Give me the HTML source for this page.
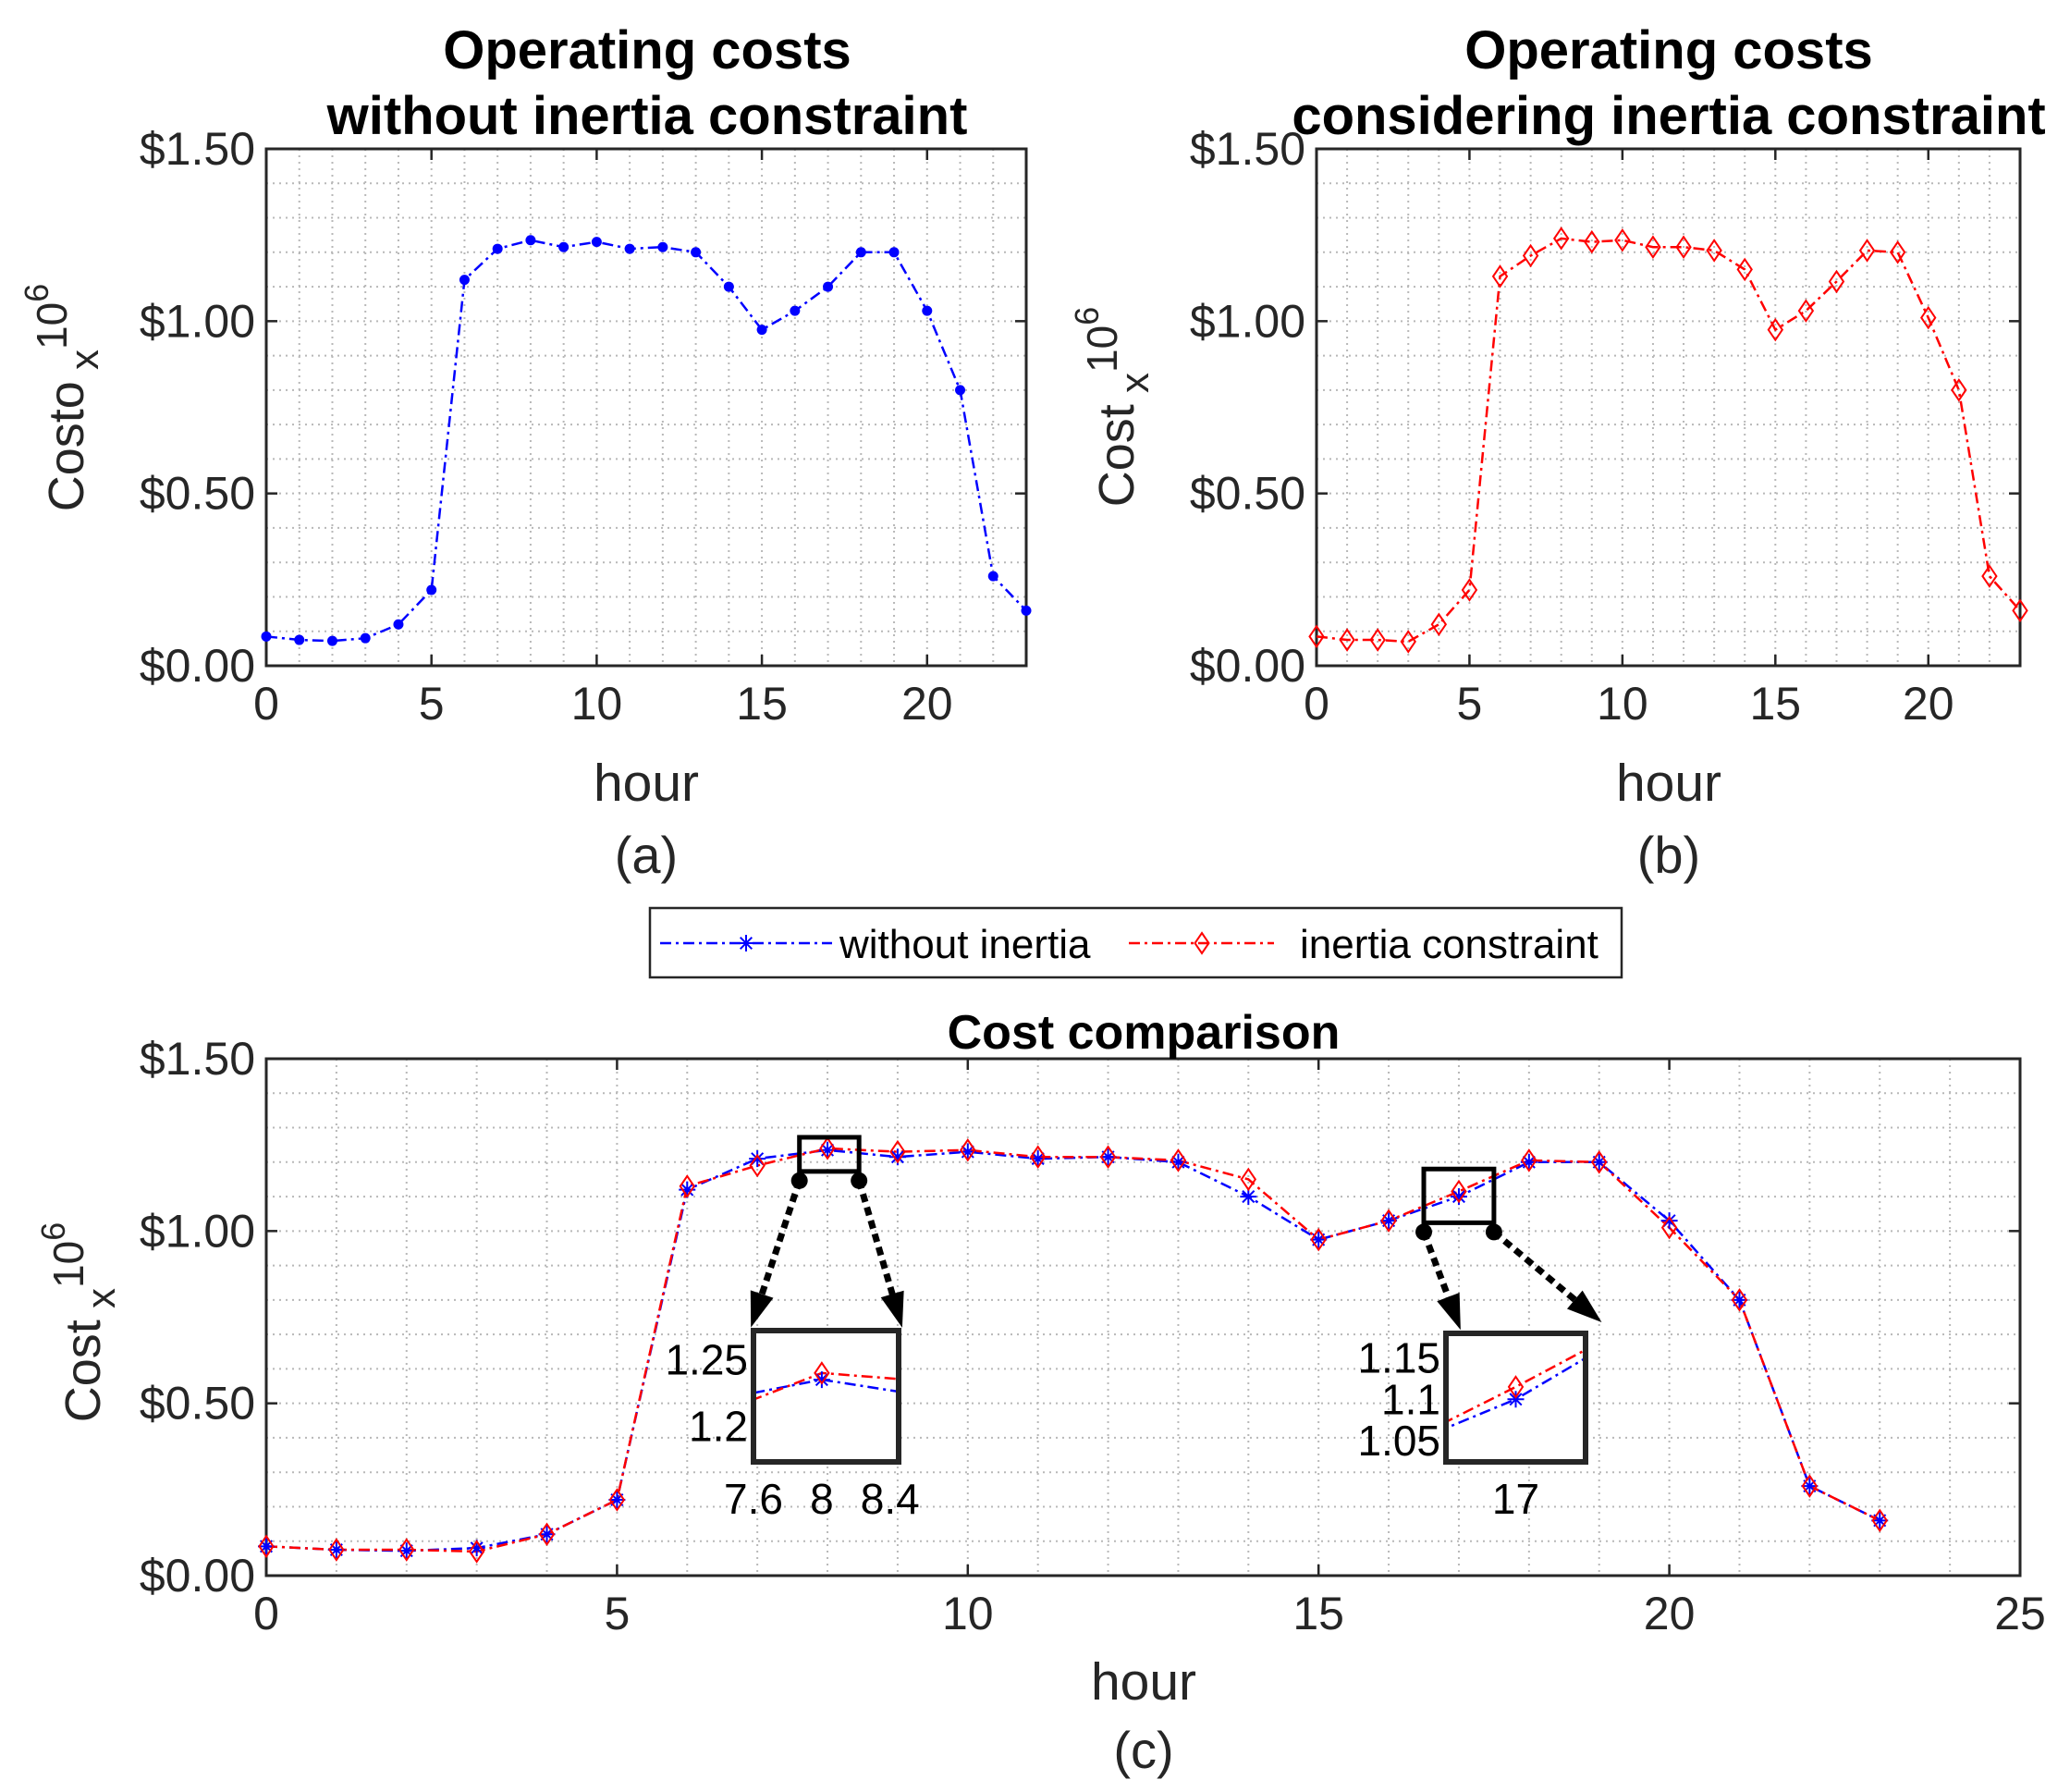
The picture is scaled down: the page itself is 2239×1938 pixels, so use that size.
<!DOCTYPE html>
<html><head><meta charset="utf-8"><style>
html,body{margin:0;padding:0;background:#fff;overflow:hidden;width:2239px;height:1938px;}
svg{display:block;font-family:"Liberation Sans",Arial,sans-serif;}
</style></head><body>
<svg id="fig" width="2239" height="1938" viewBox="0 0 2239 1938" xmlns="http://www.w3.org/2000/svg"></svg>
<script>
const hours = [0,1,2,3,4,5,6,7,8,9,10,11,12,13,14,15,16,17,18,19,20,21,22,23];
const costWithout = [0.085,0.075,0.072,0.08,0.12,0.22,1.12,1.21,1.235,1.215,1.23,1.21,1.215,1.2,1.1,0.975,1.03,1.1,1.2,1.2,1.03,0.8,0.26,0.16];
const costInertia = [0.085,0.075,0.075,0.07,0.12,0.22,1.13,1.19,1.24,1.23,1.235,1.215,1.215,1.205,1.15,0.975,1.03,1.115,1.205,1.2,1.01,0.8,0.26,0.16];
const yTickLabels = ['$0.00','$0.50','$1.00','$1.50'];
const yTickValues = [0,0.5,1,1.5];
const xTicksAB = [0,5,10,15,20];
const xTicksC = [0,5,10,15,20,25];
const inset1XTicks = [7.6,8,8.4];
const inset1YTicks = [1.2,1.25];
const inset2XTicks = [17];
const inset2YTicks = [1.05,1.1,1.15];

const NS='http://www.w3.org/2000/svg';
const svg=document.getElementById('fig');
function mk(tag,attrs,parent){const e=document.createElementNS(NS,tag);for(const k in attrs)e.setAttribute(k,attrs[k]);(parent||svg).appendChild(e);return e;}
function txt(s,x,y,size,parent,opts){opts=opts||{};const t=mk('text',{x:x,y:y,'font-size':size,'text-anchor':opts.anchor||'middle',fill:opts.fill||'#262626','font-weight':opts.bold?'bold':'normal'},parent);t.textContent=s;return t;}
const DASH='12,5,3,5';

function axes(name,L,R,T,B,xmax,xticks){
  const g=mk('g',{});
  
  
  const sx=v=>L+(v/xmax)*(R-L), sy=v=>B-(v/1.5)*(B-T);
  for(let x=1;x<xmax;x++){mk('line',{x1:sx(x),x2:sx(x),y1:T,y2:B,stroke:'#b8b8b8','stroke-width':2,'stroke-dasharray':'2,5'},g);}
  for(let i=1;i<15;i++){const v=i/10;mk('line',{x1:L,x2:R,y1:sy(v),y2:sy(v),stroke:'#b8b8b8','stroke-width':2,'stroke-dasharray':'2,5'},g);}
  xticks.forEach(v=>{mk('line',{x1:sx(v),x2:sx(v),y1:B,y2:B-12,stroke:'#262626','stroke-width':2.5},g);mk('line',{x1:sx(v),x2:sx(v),y1:T,y2:T+12,stroke:'#262626','stroke-width':2.5},g);
    const t=txt(String(v),sx(v),B+58,50,g);});
  yTickValues.forEach((v,i)=>{mk('line',{x1:L,x2:L+12,y1:sy(v),y2:sy(v),stroke:'#262626','stroke-width':2.5},g);mk('line',{x1:R,x2:R-12,y1:sy(v),y2:sy(v),stroke:'#262626','stroke-width':2.5},g);
    const t=txt(yTickLabels[i],L-12,sy(v)+17,50,g,{anchor:'end'});});
  const box=mk('rect',{x:L,y:T,width:R-L,height:B-T,fill:'none',stroke:'#262626','stroke-width':3},g);
  
  
  return {g,sx,sy};
}
function series(ax,vals,color,parent,name){
  const pts=hours.map((h,i)=>ax.sx(h)+','+ax.sy(vals[i])).join(' ');
  const p=mk('polyline',{points:pts,fill:'none',stroke:color,'stroke-width':2.5,'stroke-dasharray':DASH},parent||ax.g);
  
  
}
function dots(ax,vals,parent){hours.forEach((h,i)=>{const c=mk('circle',{cx:ax.sx(h),cy:ax.sy(vals[i]),r:5.5,fill:'#0000ff'},parent||ax.g);});}
function diamond(x,y,parent,s){s=s||1;const d=mk('polygon',{points:`${x},${y-11*s} ${x+7.5*s},${y} ${x},${y+11*s} ${x-7.5*s},${y}`,fill:'none',stroke:'#ff0000','stroke-width':2},parent);}
function star(x,y,parent,s){s=s||1;const r=9*s;const g=mk('path',{d:`M${x-r},${y}H${x+r}M${x},${y-r}V${y+r}M${x-r*0.7},${y-r*0.7}L${x+r*0.7},${y+r*0.7}M${x-r*0.7},${y+r*0.7}L${x+r*0.7},${y-r*0.7}`,stroke:'#0000ff','stroke-width':2,fill:'none'},parent);}
function ylabel(word,x,y){
  const t=mk('text',{transform:`translate(${x},${y}) rotate(-90)`,'font-size':54,'text-anchor':'middle',fill:'#262626'});
  
  
  t.innerHTML=word+'<tspan font-size="44" dy="16"> x</tspan><tspan dy="-34" font-size="46">10</tspan><tspan font-size="36" dy="-20">6</tspan>';
}

const A=axes('plot-a',288,1110,161,720,23,xTicksAB);
series(A,costWithout,'#0000ff',null,'line-without-inertia');dots(A,costWithout);
let t;
t=txt('Operating costs',700,74,58,null,{bold:true,fill:'#000'});
t=txt('without inertia constraint',700,145,58,null,{bold:true,fill:'#000'});
t=txt('hour',699,866,57);
t=txt('(a)',699,944,56);
ylabel('Costo',90,430);

const Bp=axes('plot-b',1424,2185,161,720,23,xTicksAB);
series(Bp,costInertia,'#ff0000',null,'line-inertia');hours.forEach((h,i)=>diamond(Bp.sx(h),Bp.sy(costInertia[i]),Bp.g));
t=txt('Operating costs',1805,74,58,null,{bold:true,fill:'#000'});
t=txt('considering inertia constraint',1805,145,58,null,{bold:true,fill:'#000'});
t=txt('hour',1805,866,57);
t=txt('(b)',1805,944,56);
ylabel('Cost',1226,440);

const C=axes('plot-c',288,2185,1145,1704,25,xTicksC);
series(C,costWithout,'#0000ff',null,'line-without-inertia-c');
series(C,costInertia,'#ff0000',null,'line-inertia-c');
hours.forEach((h,i)=>{star(C.sx(h),C.sy(costWithout[i]),C.g);diamond(C.sx(h),C.sy(costInertia[i]),C.g);});
t=txt('Cost comparison',1237,1134,52,null,{bold:true,fill:'#000'});
t=txt('hour',1237,1838,57);
t=txt('(c)',1237,1912,56);
ylabel('Cost',108,1430);

const lg=mk('g',{});


mk('rect',{x:703,y:982,width:1051,height:75,fill:'#fff',stroke:'#262626','stroke-width':2.5},lg);
mk('line',{x1:714,x2:900,y1:1020,y2:1020,stroke:'#0000ff','stroke-width':2.5,'stroke-dasharray':DASH},lg);
star(807,1020,lg);
t=txt('without inertia',908,1036,44,lg,{anchor:'start',fill:'#000'});
mk('line',{x1:1221,x2:1378,y1:1020,y2:1020,stroke:'#ff0000','stroke-width':2.5,'stroke-dasharray':DASH},lg);
diamond(1300,1020,lg);
t=txt('inertia constraint',1406,1036,44,lg,{anchor:'start',fill:'#000'});

function inset(name,L,R,T,B,x0,x1,y0,y1,xt,yt,idx){
  const g=mk('g',{});
  
  
  const rx0=C.sx(x0),rx1=C.sx(x1),ry0=C.sy(y1),ry1=C.sy(y0);
  mk('rect',{x:rx0,y:ry0,width:rx1-rx0,height:ry1-ry0,fill:'none',stroke:'#000','stroke-width':5},g);
  [[rx0,L+6],[rx1,R-4]].forEach(([sx0,tx])=>{
    mk('circle',{cx:sx0,cy:ry1+10,r:9,fill:'#000'},g);
    mk('line',{x1:sx0,y1:ry1+10,x2:tx,y2:T-30,stroke:'#000','stroke-width':7,'stroke-dasharray':'9,6'},g);
    const dx=tx-sx0,dy=(T-30)-(ry1+10),len=Math.hypot(dx,dy),ux=dx/len,uy=dy/len;
    const px=-uy,py=ux,tipx=tx+ux*28,tipy=T-30+uy*28;
    mk('polygon',{points:`${tipx},${tipy} ${tx-ux*10+px*13},${T-30-uy*10+py*13} ${tx-ux*10-px*13},${T-30-uy*10-py*13}`,fill:'#000'},g);
  });
  const id='clip'+idx;
  const cp=mk('clipPath',{id:id},g);mk('rect',{x:L,y:T,width:R-L,height:B-T},cp);
  mk('rect',{x:L,y:T,width:R-L,height:B-T,fill:'#fff'},g);
  const sx=v=>L+(v-x0)/(x1-x0)*(R-L), sy=v=>B-(v-y0)/(y1-y0)*(B-T);
  const ig=mk('g',{'clip-path':`url(#${id})`},g);
  [[costWithout,'#0000ff'],[costInertia,'#ff0000']].forEach(([vals,col])=>{
    mk('polyline',{points:hours.map((h,i)=>sx(h)+','+sy(vals[i])).join(' '),fill:'none',stroke:col,'stroke-width':2.5,'stroke-dasharray':DASH},ig);
  });
  hours.forEach((h,i)=>{if(h>=x0-0.5&&h<=x1+0.5){star(sx(h),sy(costWithout[i]),ig);diamond(sx(h),sy(costInertia[i]),ig);}});
  mk('rect',{x:L,y:T,width:R-L,height:B-T,fill:'none',stroke:'#262626','stroke-width':6},g);
  xt.forEach(v=>{const tt=txt(String(v),sx(v),B+56,46,g,{fill:'#000'});});
  yt.forEach(v=>{const tt=txt(String(v),L-6,sy(v)+16,46,g,{anchor:'end',fill:'#000'});});
}
inset('zoom-inset-hour-8',815,972,1439,1581,7.6,8.45,1.173,1.272,inset1XTicks,inset1YTicks,1);
inset('zoom-inset-hour-17',1564,1715,1442,1581,16.5,17.5,1.024,1.18,inset2XTicks,inset2YTicks,2);
</script>
</body></html>
